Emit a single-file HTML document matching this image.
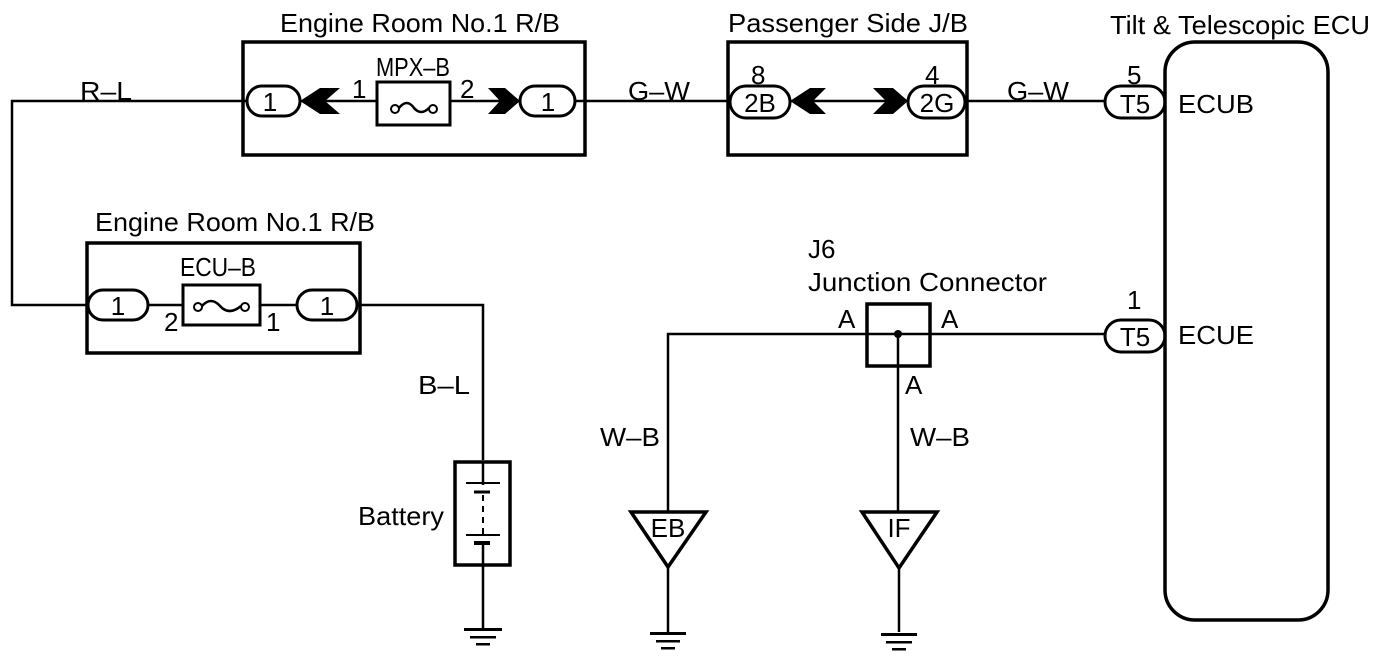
<!DOCTYPE html>
<html><head><meta charset="utf-8"><style>
html,body{margin:0;padding:0;background:#fff;}
svg{display:block;}
text{font-family:"Liberation Sans",sans-serif;font-size:26px;fill:#000;}
</style></head><body>
<svg width="1392" height="662" viewBox="0 0 1392 662" xmlns="http://www.w3.org/2000/svg">
<g fill="none" stroke="#000" stroke-width="2.5">
<polyline points="247,101 12,101 12,305 88,305"/>
<line x1="300" y1="101" x2="377" y2="101"/>
<line x1="450" y1="101" x2="520" y2="101"/>
<line x1="575" y1="101" x2="730" y2="101"/>
<line x1="790" y1="101" x2="908" y2="101"/>
<line x1="965" y1="101" x2="1105" y2="101"/>
<rect x="243" y="42" width="342" height="113" stroke-width="3.5"/>
<rect x="247" y="86" width="53" height="30" rx="15" stroke-width="3"/>
<rect x="520" y="86" width="55" height="30" rx="15" stroke-width="3"/>
<rect x="377" y="82" width="73" height="43" stroke-width="3"/>
<rect x="728" y="42" width="239" height="113" stroke-width="3.5"/>
<rect x="730" y="86" width="60" height="32" rx="16" stroke-width="3"/>
<rect x="908" y="86" width="57" height="32" rx="16" stroke-width="3"/>
<rect x="1165" y="42" width="163" height="578" rx="30" stroke-width="3.5"/>
<rect x="1105" y="86" width="60" height="32" rx="16" stroke-width="3"/>
<rect x="1105" y="320" width="60" height="32" rx="16" stroke-width="3"/>
<rect x="87" y="243" width="273" height="110" stroke-width="3.5"/>
<rect x="88" y="290" width="60" height="30" rx="15" stroke-width="3"/>
<rect x="297" y="290" width="60" height="30" rx="15" stroke-width="3"/>
<rect x="183" y="285" width="77" height="40" stroke-width="3"/>
<line x1="148" y1="305" x2="183" y2="305"/>
<line x1="260" y1="305" x2="297" y2="305"/>
<polyline points="357,305 483,305 483,460"/>
<rect x="455" y="462" width="55" height="103" stroke-width="3.5"/>
<line x1="483" y1="462" x2="483" y2="485"/>
<line x1="466" y1="483" x2="500" y2="483" stroke-width="2"/>
<line x1="474" y1="492" x2="490" y2="492" stroke-width="3"/>
<line x1="483" y1="495" x2="483" y2="535" stroke-dasharray="6,5" stroke-width="2"/>
<line x1="466" y1="535" x2="500" y2="535" stroke-width="2"/>
<line x1="474" y1="543" x2="490" y2="543" stroke-width="4"/>
<line x1="483" y1="545" x2="483" y2="628"/>
<rect x="867" y="304" width="63" height="62" stroke-width="3.5"/>
<polyline points="1105,334 668,334 668,512"/>
<line x1="898" y1="334" x2="898" y2="512"/>
<polygon points="631,512 706,512 668,567" stroke-width="3.5"/>
<line x1="668" y1="567" x2="668" y2="632"/>
<polygon points="862,512 937,512 899,568" stroke-width="3.5"/>
<line x1="899" y1="568" x2="899" y2="632"/>
</g>
<g fill="#000">
<circle cx="395" cy="109" r="4" fill="#fff" stroke="#000" stroke-width="2"/>
<circle cx="433" cy="109" r="4" fill="#fff" stroke="#000" stroke-width="2"/>
<path d="M399 108 Q407 98 414 108 Q421 116 429 108" fill="none" stroke="#000" stroke-width="2.5"/>
<circle cx="198" cy="307" r="4" fill="#fff" stroke="#000" stroke-width="2"/>
<circle cx="245" cy="307" r="4" fill="#fff" stroke="#000" stroke-width="2"/>
<path d="M202 306 Q211 296 220 306 Q229 316 241 306" fill="none" stroke="#000" stroke-width="2.5"/>
<polygon points="300,101 320,88 340,88 325,101 340,114 320,114"/>
<polygon points="520,101 505,88 488,88 500,101 488,114 505,114"/>
<polygon points="790,101 810,88 826,88 813,101 826,114 810,114"/>
<polygon points="908,101 893,88 873,88 886,101 873,114 893,114"/>
<circle cx="898" cy="334" r="4"/>
<rect x="464" y="628" width="38" height="3"/><rect x="470" y="636" width="26" height="2.5"/><rect x="476" y="643" width="14" height="2.5"/>
<rect x="650" y="632" width="36" height="3"/><rect x="656" y="640" width="24" height="2.5"/><rect x="661" y="647" width="14" height="2.5"/>
<rect x="881" y="633" width="36" height="3"/><rect x="886" y="641" width="26" height="2.5"/><rect x="892" y="648" width="14" height="2.5"/>
</g>
<g lengthAdjust="spacingAndGlyphs">
<text x="280" y="32" textLength="280" lengthAdjust="spacingAndGlyphs">Engine Room No.1 R/B</text>
<text x="376" y="76" textLength="74" lengthAdjust="spacingAndGlyphs">MPX–B</text>
<text x="352" y="98">1</text>
<text x="460" y="98">2</text>
<text x="270" y="111" text-anchor="middle">1</text>
<text x="548" y="111" text-anchor="middle">1</text>
<text x="80" y="100" textLength="52" lengthAdjust="spacingAndGlyphs">R–L</text>
<text x="628" y="100" textLength="62" lengthAdjust="spacingAndGlyphs">G–W</text>
<text x="728" y="32" textLength="240" lengthAdjust="spacingAndGlyphs">Passenger Side J/B</text>
<text x="751" y="84">8</text>
<text x="925" y="84">4</text>
<text x="760" y="112" text-anchor="middle">2B</text>
<text x="937" y="112" text-anchor="middle">2G</text>
<text x="1007" y="100" textLength="62" lengthAdjust="spacingAndGlyphs">G–W</text>
<text x="1110" y="34" textLength="260" lengthAdjust="spacingAndGlyphs">Tilt &amp; Telescopic ECU</text>
<text x="1127" y="84">5</text>
<text x="1135" y="113" text-anchor="middle">T5</text>
<text x="1178" y="113" textLength="76" lengthAdjust="spacingAndGlyphs">ECUB</text>
<text x="1127" y="309">1</text>
<text x="1135" y="346" text-anchor="middle">T5</text>
<text x="1178" y="344" textLength="76" lengthAdjust="spacingAndGlyphs">ECUE</text>
<text x="95" y="231" textLength="280" lengthAdjust="spacingAndGlyphs">Engine Room No.1 R/B</text>
<text x="180" y="276" textLength="76" lengthAdjust="spacingAndGlyphs">ECU–B</text>
<text x="118" y="315" text-anchor="middle">1</text>
<text x="327" y="315" text-anchor="middle">1</text>
<text x="164" y="331">2</text>
<text x="266" y="331">1</text>
<text x="418" y="394" textLength="52" lengthAdjust="spacingAndGlyphs">B–L</text>
<text x="358" y="525" textLength="86" lengthAdjust="spacingAndGlyphs">Battery</text>
<text x="808" y="258">J6</text>
<text x="808" y="291" textLength="239" lengthAdjust="spacingAndGlyphs">Junction Connector</text>
<text x="838" y="328">A</text>
<text x="941" y="328">A</text>
<text x="905" y="394">A</text>
<text x="600" y="446" textLength="60" lengthAdjust="spacingAndGlyphs">W–B</text>
<text x="910" y="446" textLength="60" lengthAdjust="spacingAndGlyphs">W–B</text>
<text x="668" y="537" text-anchor="middle">EB</text>
<text x="899" y="537" text-anchor="middle">IF</text>
</g>
</svg>
</body></html>
